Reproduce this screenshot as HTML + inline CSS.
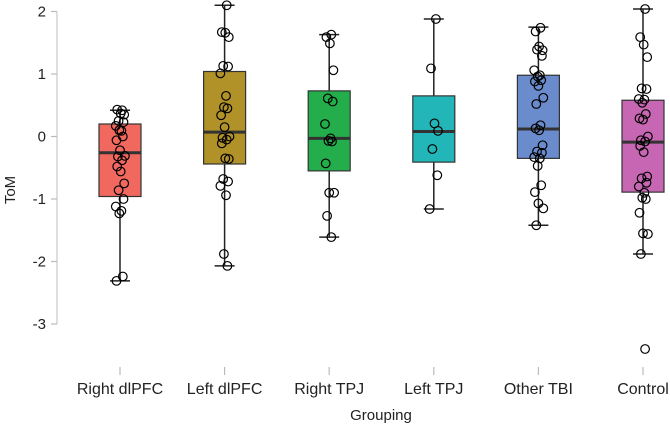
<!DOCTYPE html>
<html><head><meta charset="utf-8"><style>
body{margin:0;background:#fff}
svg text{font-family:"Liberation Sans",Arial,sans-serif;fill:#222}
</style></head><body>
<svg id="chart" width="670" height="430"></svg>
<script>
const categories=["Right dlPFC","Left dlPFC","Right TPJ","Left TPJ","Other TBI","Control"];
const colors=["#F0685E","#B09228","#24AE4B","#22B6B8","#6A8BCC","#C766B2"];
const q1=[-0.96,-0.44,-0.55,-0.41,-0.35,-0.89];
const medians=[-0.26,0.07,-0.03,0.08,0.12,-0.09];
const q3=[0.2,1.04,0.73,0.65,0.98,0.58];
const whiskLo=[-2.31,-2.07,-1.61,-1.16,-1.42,-1.88];
const whiskHi=[0.42,2.1,1.63,1.88,1.75,2.04];
const points=[
[0.42,0.43,0.37,0.35,0.25,0.23,0.17,0.09,0.1,0,-0.06,-0.22,-0.31,-0.32,-0.38,-0.48,-0.56,-0.75,-0.86,-1.0,-1.12,-1.19,-1.23,-2.24,-2.31],
[2.1,1.67,1.66,1.59,1.13,1.12,1.01,0.65,0.47,0.45,0.34,0.15,0,-0.02,-0.05,-0.11,-0.35,-0.36,-0.68,-0.72,-0.79,-0.94,-1.88,-2.07],
[1.63,1.59,1.49,1.06,0.61,0.56,0.2,-0.03,-0.07,-0.08,-0.43,-0.9,-0.9,-1.27,-1.61],
[1.88,1.09,0.21,0.09,-0.2,-0.62,-1.16],
[1.74,1.68,1.44,1.38,1.39,1.29,1.06,0.98,0.96,0.9,0.88,0.81,0.62,0.52,0.18,0.13,0.1,-0.14,-0.24,-0.26,-0.33,-0.35,-0.47,-0.78,-0.89,-1.07,-1.15,-1.42],
[2.04,1.59,1.47,1.27,0.77,0.76,0.6,0.59,0.54,0.36,0.29,0.27,0,-0.06,-0.08,-0.15,-0.25,-0.64,-0.67,-0.74,-0.8,-0.9,-0.98,-1.0,-1.22,-1.55,-1.56,-1.88,-3.4]
];
const yTicks=[2,1,0,-1,-2,-3];
const jitter=[0.3,-0.4,0.1,0.6,-0.2,0.5,-0.6,0.2,-0.1,0.4,-0.5,0.0,0.7,-0.3];
const NS="http://www.w3.org/2000/svg";
const svg=document.getElementById('chart');
const y=v=>136.5-v*62.5;
const x=i=>120+i*104.6;
function mk(t,a,p){const e=document.createElementNS(NS,t);for(const k in a)e.setAttribute(k,a[k]);(p||svg).appendChild(e);return e;}
const ax=mk('line',{x1:57,x2:57,y1:y(2),y2:y(-3),stroke:'#d4d4d4','stroke-width':1.5});


yTicks.forEach(t=>{
  const tk=mk('line',{x1:51,x2:57,y1:y(t),y2:y(t),stroke:'#bbb','stroke-width':1.2});
  
  
  const tl=mk('text',{x:46,y:y(t)+5,'text-anchor':'end','font-size':15});
  tl.textContent=t;
  
  
});
const yt=mk('text',{x:15,y:190,'text-anchor':'middle','font-size':15,transform:'rotate(-90 15 190)'});
yt.textContent='ToM';


const xt=mk('text',{x:381,y:420,'text-anchor':'middle','font-size':15});
xt.textContent='Grouping';


categories.forEach((c,i)=>{
  const cx=x(i);
  const g=mk('g',{});
  
  
  mk('line',{x1:cx,x2:cx,y1:y(whiskHi[i]),y2:y(whiskLo[i]),stroke:'#222','stroke-width':1.5},g);
  mk('line',{x1:cx-10,x2:cx+10,y1:y(whiskHi[i]),y2:y(whiskHi[i]),stroke:'#222','stroke-width':1.5},g);
  mk('line',{x1:cx-10,x2:cx+10,y1:y(whiskLo[i]),y2:y(whiskLo[i]),stroke:'#222','stroke-width':1.5},g);
  mk('rect',{x:cx-21,y:y(q3[i]),width:42,height:y(q1[i])-y(q3[i]),fill:colors[i],stroke:'#333','stroke-width':1.2},g);
  mk('line',{x1:cx-21,x2:cx+21,y1:y(medians[i]),y2:y(medians[i]),stroke:'#333','stroke-width':3},g);
  points[i].forEach((v,j)=>{
    const p=mk('circle',{cx:cx+jitter[j%jitter.length]*7,cy:y(v),r:4.3,fill:'none',stroke:'#000','stroke-width':1.2});
    
    
  });
  const lt=mk('line',{x1:cx,x2:cx,y1:367,y2:375,stroke:'#bbb','stroke-width':1.2});
  
  
  const l=mk('text',{x:cx,y:394,'text-anchor':'middle','font-size':16});
  l.textContent=c;
  
  
});
</script>
</body></html>
